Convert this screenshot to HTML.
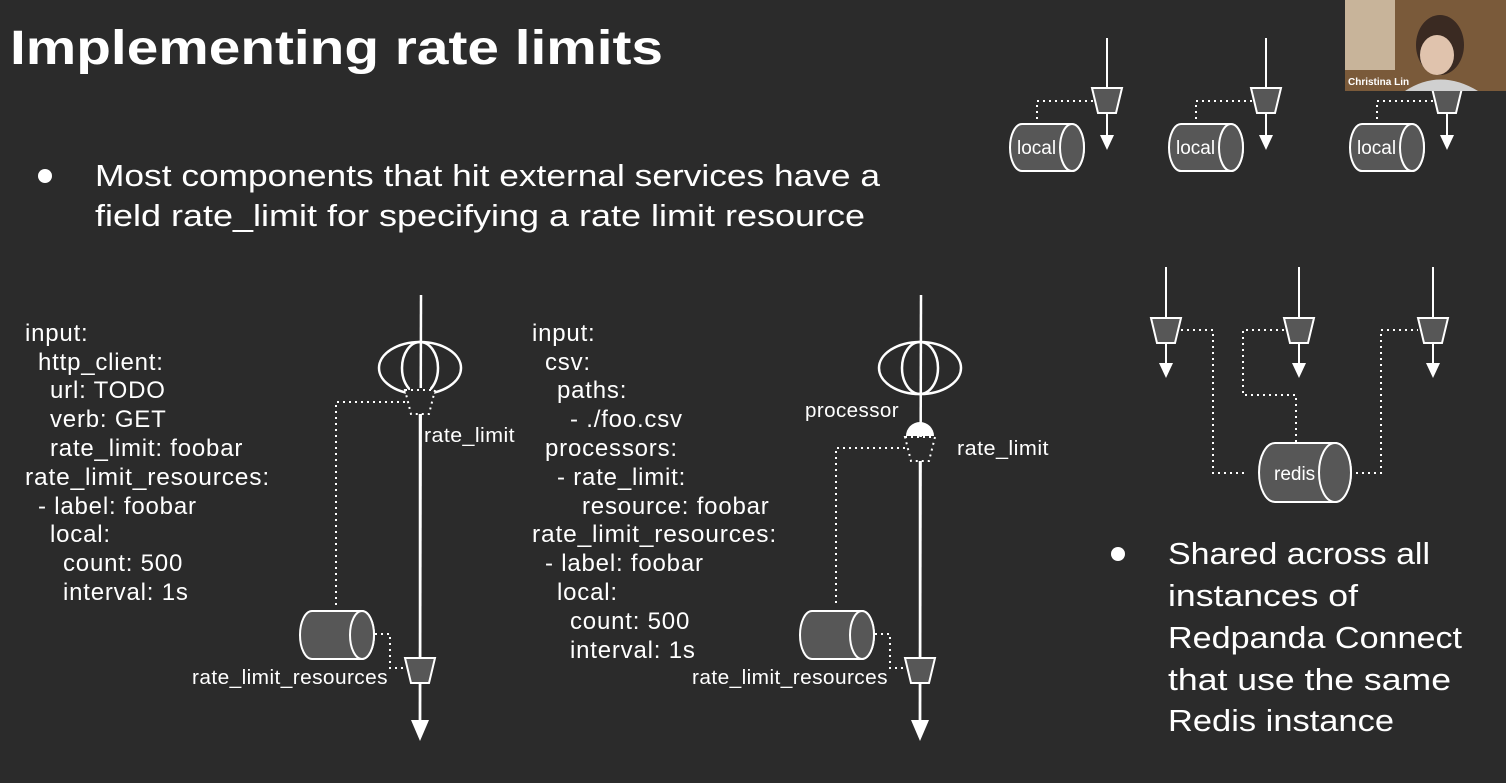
<!DOCTYPE html>
<html><head><meta charset="utf-8"><style>
html,body{margin:0;padding:0;background:#2b2b2b;}
svg{display:block;}
text{font-family:"Liberation Sans",sans-serif;fill:#fff;}
.c{font-size:24px;letter-spacing:0.8px;}
.l{font-size:20px;letter-spacing:0.4px;}
</style></head><body>
<svg width="1506" height="783" viewBox="0 0 1506 783" xmlns="http://www.w3.org/2000/svg">
<defs>
<g id="trap"><polygon points="-15,0 15,0 9,25 -9,25" fill="#575757" stroke="#fff" stroke-width="2"/></g>
</defs>
<rect width="1506" height="783" fill="#2b2b2b"/>
<text x="10" y="64" font-size="48" font-weight="bold" textLength="653" lengthAdjust="spacingAndGlyphs">Implementing rate limits</text>
<circle cx="45" cy="176" r="7" fill="#fff"/>
<text x="95" y="186" font-size="31" textLength="785" lengthAdjust="spacingAndGlyphs">Most components that hit external services have a</text>
<text x="95" y="226" font-size="31" textLength="770" lengthAdjust="spacingAndGlyphs">field rate_limit for specifying a rate limit resource</text>

<g class="c">
<text x="25" y="341">input:</text>
<text x="38" y="370">http_client:</text>
<text x="50" y="398">url: TODO</text>
<text x="50" y="427">verb: GET</text>
<text x="50" y="456">rate_limit: foobar</text>
<text x="25" y="485" textLength="245" lengthAdjust="spacingAndGlyphs">rate_limit_resources:</text>
<text x="38" y="514">- label: foobar</text>
<text x="50" y="542">local:</text>
<text x="63" y="571">count: 500</text>
<text x="63" y="600">interval: 1s</text>

<text x="532" y="341">input:</text>
<text x="545" y="370">csv:</text>
<text x="557" y="398">paths:</text>
<text x="570" y="427">- ./foo.csv</text>
<text x="545" y="456">processors:</text>
<text x="557" y="485">- rate_limit:</text>
<text x="582" y="514">resource: foobar</text>
<text x="532" y="542" textLength="245" lengthAdjust="spacingAndGlyphs">rate_limit_resources:</text>
<text x="545" y="571">- label: foobar</text>
<text x="557" y="600">local:</text>
<text x="570" y="629">count: 500</text>
<text x="570" y="658">interval: 1s</text>
</g>

<!-- diagram 1 -->
<g stroke="#fff" stroke-width="2.5" fill="none">
<line x1="421" y1="295" x2="420" y2="722"/>
<ellipse cx="420" cy="368" rx="41" ry="26"/>
<ellipse cx="420" cy="368" rx="18" ry="26"/>
</g>
<rect x="410" y="388" width="20" height="6" fill="#2b2b2b"/>
<polygon points="405,390 435,390 429,414 411,414" fill="#2b2b2b" stroke="#fff" stroke-width="2" stroke-dasharray="2,4"/>
<line x1="420" y1="414" x2="420" y2="722" stroke="#fff" stroke-width="2.5"/>
<path d="M405,402 H336 V605" stroke="#fff" stroke-width="2" stroke-dasharray="2,4" fill="none"/>
<path d="M375,634 H390 V668 H405" stroke="#fff" stroke-width="2" stroke-dasharray="2,4" fill="none"/>
<path d="M312,611 H362 A12,24 0 0 1 362,659 H312 A12,24 0 0 1 312,611 Z" fill="#575757" stroke="#fff" stroke-width="2"/>
<ellipse cx="362" cy="635" rx="12" ry="24" fill="#575757" stroke="#fff" stroke-width="2"/>
<use href="#trap" x="420" y="658"/>
<polygon points="411,720 429,720 420,741" fill="#fff"/>
<text class="l" x="424" y="442" textLength="91" lengthAdjust="spacingAndGlyphs">rate_limit</text>
<text class="l" x="192" y="684" textLength="196" lengthAdjust="spacingAndGlyphs">rate_limit_resources</text>

<!-- diagram 2 -->
<g stroke="#fff" stroke-width="2.5" fill="none">
<line x1="921" y1="295" x2="920" y2="722"/>
<ellipse cx="920" cy="368" rx="41" ry="26"/>
<ellipse cx="920" cy="368" rx="18" ry="26"/>
</g>
<path d="M906,436 A14,14 0 0 1 934,436 Z" fill="#fff"/>
<polygon points="905,437 935,437 929,461 911,461" fill="#2b2b2b" stroke="#fff" stroke-width="2" stroke-dasharray="2,4"/>
<line x1="920" y1="461" x2="920" y2="722" stroke="#fff" stroke-width="2.5"/>
<path d="M905,448 H836 V605" stroke="#fff" stroke-width="2" stroke-dasharray="2,4" fill="none"/>
<path d="M875,634 H890 V668 H905" stroke="#fff" stroke-width="2" stroke-dasharray="2,4" fill="none"/>
<path d="M812,611 H862 A12,24 0 0 1 862,659 H812 A12,24 0 0 1 812,611 Z" fill="#575757" stroke="#fff" stroke-width="2"/>
<ellipse cx="862" cy="635" rx="12" ry="24" fill="#575757" stroke="#fff" stroke-width="2"/>
<use href="#trap" x="920" y="658"/>
<polygon points="911,720 929,720 920,741" fill="#fff"/>
<text class="l" x="805" y="417" textLength="94" lengthAdjust="spacingAndGlyphs">processor</text>
<text class="l" x="957" y="455" textLength="92" lengthAdjust="spacingAndGlyphs">rate_limit</text>
<text class="l" x="692" y="684" textLength="196" lengthAdjust="spacingAndGlyphs">rate_limit_resources</text>

<!-- top right locals -->
<g id="loc">
<line x1="1107" y1="38" x2="1107" y2="140" stroke="#fff" stroke-width="2"/>
<use href="#trap" x="1107" y="88"/>
<polygon points="1100,135 1114,135 1107,150" fill="#fff"/>
<path d="M1093,101 H1037 V122" stroke="#fff" stroke-width="2" stroke-dasharray="2,4" fill="none"/>
<path d="M1022,124 H1072 A12,23.5 0 0 1 1072,171 H1022 A12,23.5 0 0 1 1022,124 Z" fill="#575757" stroke="#fff" stroke-width="2"/>
<ellipse cx="1072" cy="147.5" rx="12" ry="23.5" fill="#575757" stroke="#fff" stroke-width="2"/>
<text x="1017" y="154" font-size="19">local</text>
</g>
<use href="#loc" x="159"/>
<use href="#loc" x="340"/>

<!-- webcam -->
<rect x="1345" y="0" width="161" height="91" fill="#7a5a3a"/>
<rect x="1345" y="0" width="50" height="70" fill="#c8b49a"/>
<ellipse cx="1440" cy="45" rx="24" ry="30" fill="#3a2a22"/>
<ellipse cx="1437" cy="55" rx="17" ry="20" fill="#e0c3ad"/>
<path d="M1405,91 Q1440,68 1478,91 Z" fill="#d0d0d0"/>
<text x="1348" y="85" font-size="10" font-weight="bold">Christina Lin</text>

<!-- redis part -->
<g stroke="#fff" stroke-width="2">
<line x1="1166" y1="267" x2="1166" y2="368"/>
<line x1="1299" y1="267" x2="1299" y2="368"/>
<line x1="1433" y1="267" x2="1433" y2="368"/>
</g>
<use href="#trap" x="1166" y="318"/>
<use href="#trap" x="1299" y="318"/>
<use href="#trap" x="1433" y="318"/>
<polygon points="1159,363 1173,363 1166,378" fill="#fff"/>
<polygon points="1292,363 1306,363 1299,378" fill="#fff"/>
<polygon points="1426,363 1440,363 1433,378" fill="#fff"/>
<g stroke="#fff" stroke-width="2" stroke-dasharray="2,4" fill="none">
<path d="M1181,330 H1213 V473 H1248"/>
<path d="M1284,330 H1243 V395 H1296 V443"/>
<path d="M1350,473 H1381 V330 H1418"/>
</g>
<path d="M1275,443 H1335 A16,29.5 0 0 1 1335,502 H1275 A16,29.5 0 0 1 1275,443 Z" fill="#575757" stroke="#fff" stroke-width="2"/>
<ellipse cx="1335" cy="472.5" rx="16" ry="29.5" fill="#575757" stroke="#fff" stroke-width="2"/>
<text x="1274" y="480" font-size="19">redis</text>

<circle cx="1118" cy="554" r="7" fill="#fff"/>
<g font-size="31">
<text x="1168" y="564" textLength="262" lengthAdjust="spacingAndGlyphs">Shared across all</text>
<text x="1168" y="606" textLength="190" lengthAdjust="spacingAndGlyphs">instances of</text>
<text x="1168" y="648" textLength="294" lengthAdjust="spacingAndGlyphs">Redpanda Connect</text>
<text x="1168" y="690" textLength="283" lengthAdjust="spacingAndGlyphs">that use the same</text>
<text x="1168" y="731" textLength="226" lengthAdjust="spacingAndGlyphs">Redis instance</text>
</g>
</svg>
</body></html>
